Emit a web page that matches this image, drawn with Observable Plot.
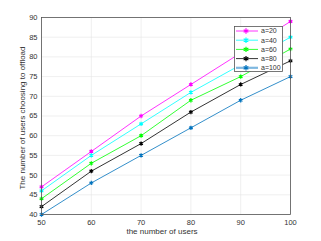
<!DOCTYPE html>
<html><head><meta charset="utf-8">
<script src="https://cdn.jsdelivr.net/npm/d3@7"></script>
<script src="https://cdn.jsdelivr.net/npm/@observablehq/plot@0.6"></script>
<style>
body{margin:0;background:#fff}
#chart{position:relative;width:321px;height:241px;font-family:"Liberation Sans",Arial,sans-serif}
#legend{position:absolute;left:234px;top:26px}
</style>
</head><body><div id="chart"></div>
<script>
const users = [50, 60, 70, 80, 90, 100];
const seriesNames = ["a=20", "a=40", "a=60", "a=80", "a=100"];
const a20 = [47, 56, 65, 73, 81, 89];
const a40 = [46, 55, 63, 71, 78, 85];
const a60 = [44, 53, 60, 69, 75, 82];
const a80 = [42, 51, 58, 66, 73, 79];
const a100 = [40, 48, 55, 62, 69, 75];
const xTicks = [50, 60, 70, 80, 90, 100];
const yTicks = [40, 45, 50, 55, 60, 65, 70, 75, 80, 85, 90];
const colors = ["#ff00ff", "#00ffff", "#00ff00", "#000000", "#0072bd"];
const xLabel = "the number of users";
const yLabel = "The number of users choosing to offload";

const allSeries = [a20, a40, a60, a80, a100];
const data = [];
allSeries.forEach((vals, i) => vals.forEach((v, j) => data.push({series: seriesNames[i], x: users[j], y: v})));

const font = '"Liberation Sans", Arial, sans-serif';
const plot = Plot.plot({
  width: 321, height: 241,
  marginLeft: 41, marginRight: 31, marginTop: 17, marginBottom: 27,
  style: {fontFamily: font, fontSize: "7.5px", color: "#333"},
  x: {domain: [50, 100]},
  y: {domain: [40, 90]},
  color: {domain: seriesNames, range: colors},
  marks: [
    Plot.gridX(xTicks, {stroke: "#e4e4e4", strokeOpacity: 1, strokeWidth: 0.6}),
    Plot.gridY(yTicks, {stroke: "#e4e4e4", strokeOpacity: 1, strokeWidth: 0.6}),
    Plot.axisX(xTicks, {tickSize: 0, tickPadding: 5, label: null, fill: "#333"}),
    Plot.axisY(yTicks, {tickSize: 0, tickPadding: 4, label: null, fill: "#333"}),
    Plot.text([xLabel], {frameAnchor: "bottom", dy: 19, dx: -4, fontSize: 8, fill: "#333"}),
    Plot.text([yLabel], {frameAnchor: "left", textAnchor: "middle", dx: -19, dy: 2, rotate: -90, fontSize: 8, fill: "#333"}),
    Plot.line(data, {x: "x", y: "y", z: "series", stroke: "series", strokeWidth: 0.8}),
    Plot.dot(data, {x: "x", y: "y", stroke: "series", symbol: "asterisk", r: 2, strokeWidth: 1.2}),
    Plot.frame({stroke: "#555", strokeWidth: 0.8})
  ]
});
const chart = document.getElementById("chart");
chart.appendChild(plot);

// legend
const lw = 49, lh = 46, rowH = 9.2;
const leg = d3.select(chart).append("svg").attr("id", "legend").attr("width", lw).attr("height", lh);
leg.append("rect").attr("x", 0.5).attr("y", 0.5).attr("width", lw - 1).attr("height", lh - 1)
  .attr("fill", "#fff").attr("stroke", "#555").attr("stroke-width", 0.8);
const symbol = d3.symbol(d3.symbolAsterisk, 20);
seriesNames.forEach((name, i) => {
  const cy = 5 + rowH * i;
  const g = leg.append("g");
  g.append("line").attr("x1", 2).attr("x2", 24).attr("y1", cy).attr("y2", cy)
    .attr("stroke", i === 4 ? "#7fb8e0" : colors[i]).attr("stroke-width", i === 4 ? 2.2 : 0.8);
  g.append("path").attr("d", symbol()).attr("transform", `translate(12,${cy})`)
    .attr("fill", "none").attr("stroke", colors[i]).attr("stroke-width", 1.2);
  g.append("text").attr("x", 27).attr("y", cy).attr("dy", "0.35em")
    .attr("font-size", "7px").attr("fill", "#333")
    .attr("font-family", font).text(name);
});
</script>
</body></html>
